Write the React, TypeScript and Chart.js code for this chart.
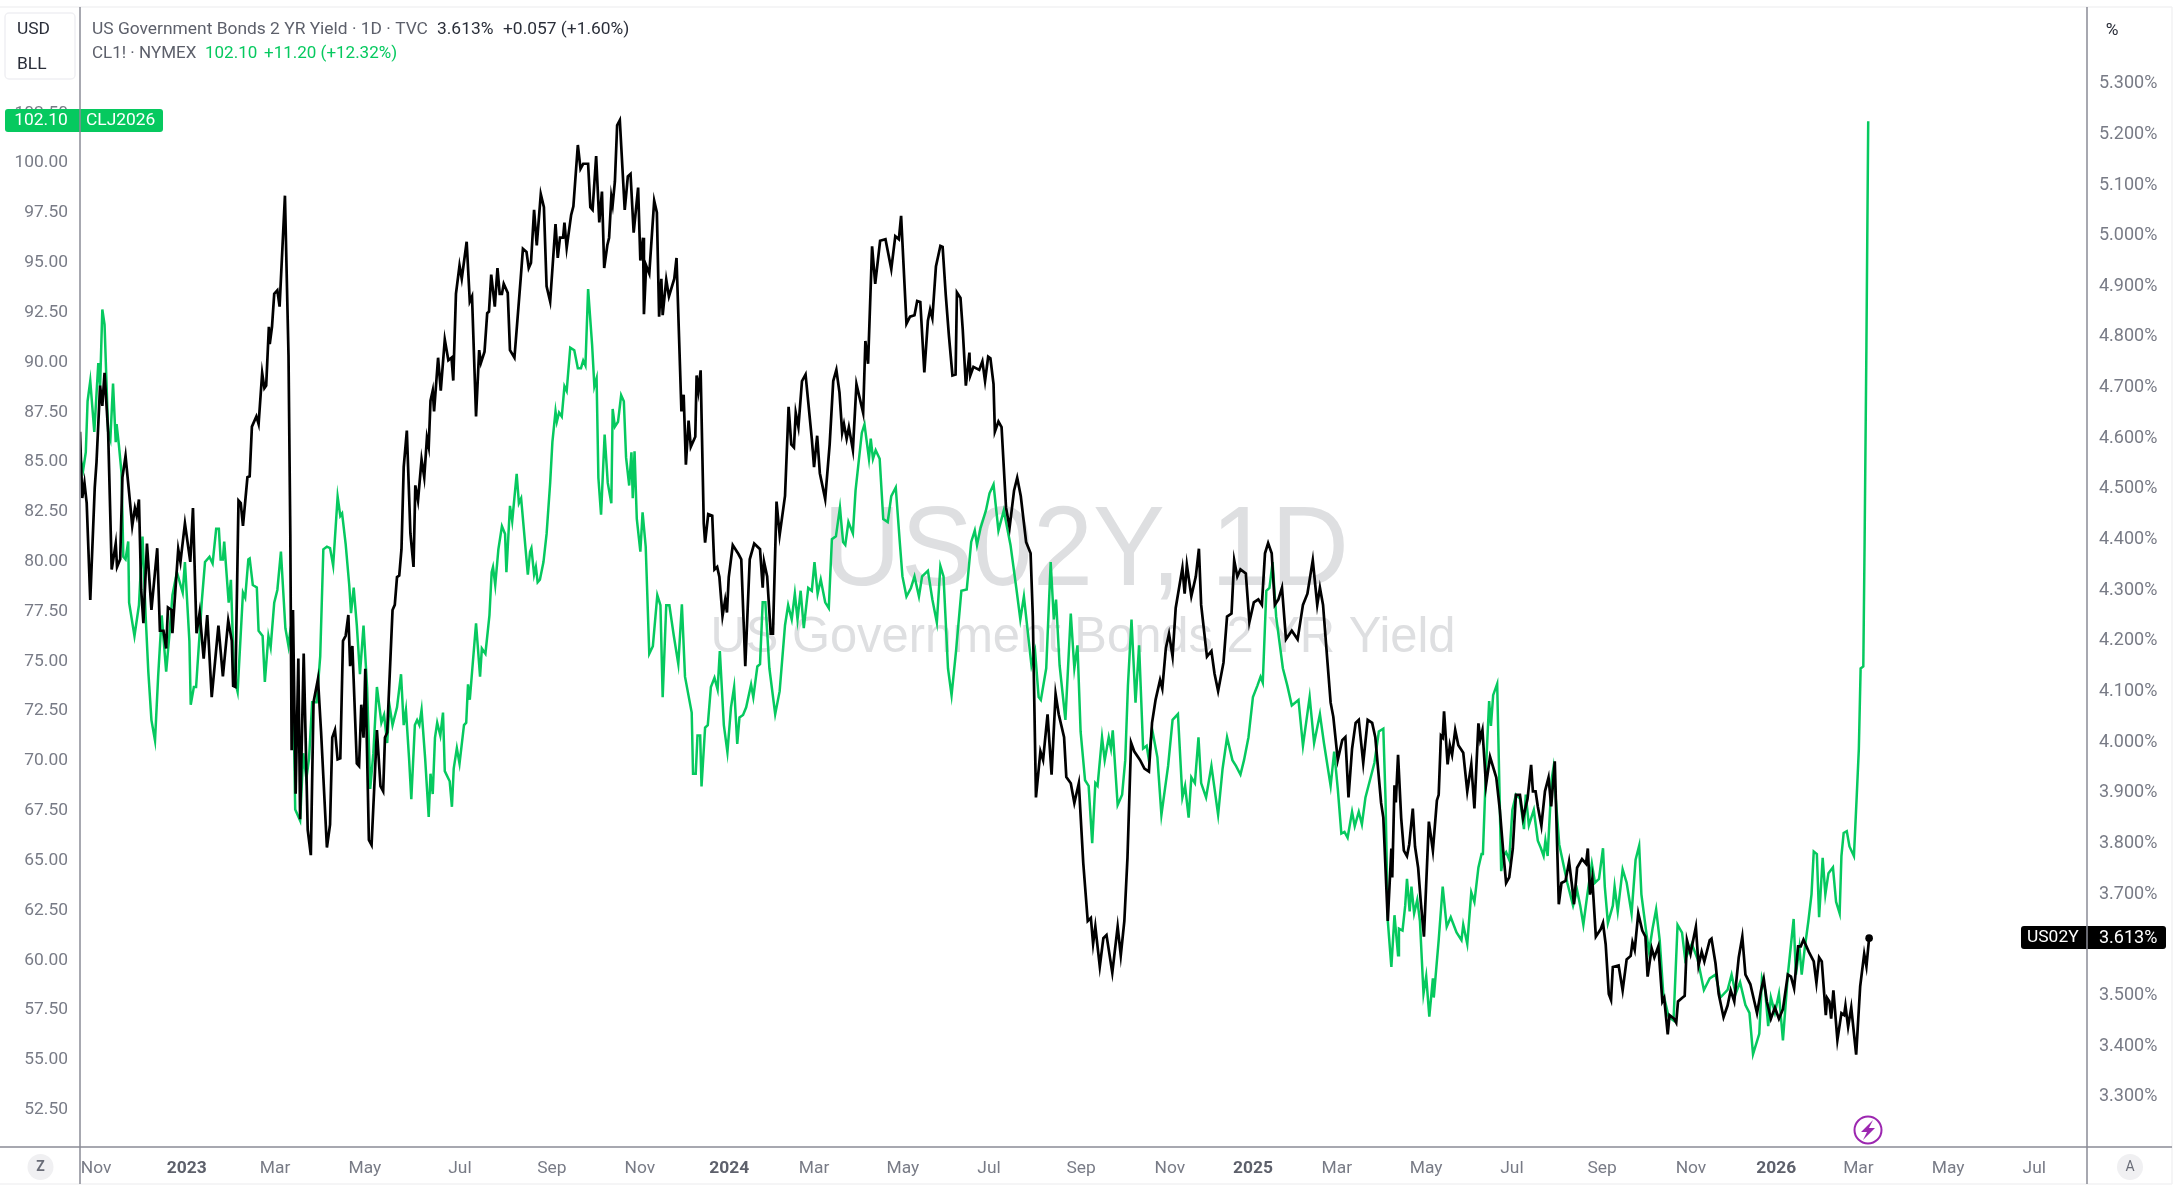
import React, { useEffect, useRef } from "react";
import { Chart, registerables } from "chart.js";

Chart.register(...registerables);

// Horizontal position of each reading on the chart's continuous time axis.
const yieldTime = [45,50,55,60,68,78,82,90,95,100,108,116,125,128,135,140,147,155,162,168,172,177,182,187,195,205,218,224,232,238,242,250,252,265,270,280,292,298,306,313,322,330,340,355,365,377,385,388,393,400,405,410,420,425,430,440,445,453,458,462,468,470,475,480,487,492,504,512,516,519,522,528,534,538,546,555,562,568,578,585,598,605,610,616,622,628,634,640,646,650,655,665,670,675,680,684,692,698,710,718,724,728,733,740,745,750,755,760,765,770,777,785,792,796,802,810,816,822,826,830,835,838,847,853,862,870,877,881,887,895,900,911,918,923,932,939,943,951,957,961,966,974,980,985,990,994,1003,1008,1018,1032,1037,1045,1050,1055,1062,1068,1077,1084,1090,1098,1110,1115,1120,1127,1130,1135,1145,1150,1160,1166,1172,1183,1188,1193,1201,1208,1214,1219,1226,1230,1235,1238,1243,1248,1254,1265,1272,1278,1285,1295,1300,1306,1308,1313,1320,1331,1337,1342,1347,1350,1358,1364,1376,1381,1392,1397,1402,1408,1413,1423,1426,1430,1435,1442,1445,1452,1461,1466,1472,1477,1484,1490,1494,1498,1507,1520,1526,1535,1545,1555,1568,
1574,1577,1584,1592,1597,1605,1612,1624,1632,1638,1644,1648,1654,1662,1670,1684,1689,1696,1702,1714,1724,1732,1739,1746,1752,1756,1762,1767,1776,1784,1799,1804,1810,1819,1826,1837,1849,1862,1871,1879,1884,1896,1904,1914,1920,1927,1936,1944,1949,1954,1962,1972,1977,1984,1991,1999,2006,2009,2017,2022,2029,2037,2039,2046,2059,2066,2072,2079,2084,2091,2094,2102,2109,2119,2127,2137,2144,2152,2164,2174,2179,2186,2196,2202,2212,2221,2230,2237,2249,2254,2264,2272,2282,2292,2302,2309,2314,2319,2329,2337,2344,2357,2369,2376,2384,2391,2399,2406,2419,2429,2439,2446,2454,2464,2469,2477,2484,2492,2499,2514,2519,2524,2534,2544,2551,2556,2569,2579,2586,2594,2606,2614,2624,2630,2637,2644,2656,2664,2674,2684,2692,2699,2706,2714,2721,2729,2737,2746,2759,2772,2784,2794,2806,2816,2822,2829,2839,2846,2852,2862,2872,2879,2886,2894,2902,2909,2919,2929,2939,2946,2959,2964,2974,
2982,2984,2989,2992,2997,3004,3010,3017,3022,3030,3035,3042,3048,3055,3066,3075,3084,3088,3093,3097,3100,3108,3113,3118,3125,3132,3143,3152,3161,3168,3177,3181,3186,3194,3203,3217,3225,3232,3239,3246,3254,3261,3270,3277,3287,3295,3299,3305,3310,3318,3326,3334,3340,3348,3357,3363,3372,3380,3387,3391,3398,3409,3418,3422,3427,3432,3440,3451,3456,3462,3469,3474,3478,3491,3500,3509,3518,3522,3527,3535,3544,3551,3556,3565,3571,3580,3589,3593,3601,3605,3615,3620,3624,3633,3639,3644,3652,3657,3664,3670,3677,3683,3695,3699,3708,3715,3726,3735,3742,3750,3760,3768,3775,3786,3795,3801,3810,3816,3823,3832,3841,3850,3859,3870,3877,3884,3893,3899,3905,3917,3928,3934,3940,3946,3955,3958,3963,3967,3972,3981,3990,3996,3999,4005,4012,4023,4032,4041,4046,4052];

const yieldValues = [4.613,4.482,4.512,4.472,4.281,4.502,4.553,4.704,4.664,4.729,4.613,4.341,4.392,4.346,4.361,4.523,4.565,4.492,4.427,4.462,4.447,4.479,4.301,4.235,4.392,4.261,4.383,4.220,4.220,4.185,4.266,4.261,4.215,4.381,4.356,4.432,4.356,4.462,4.215,4.256,4.165,4.251,4.089,4.230,4.130,4.240,4.200,4.111,4.109,4.477,4.472,4.427,4.523,4.525,4.623,4.643,4.628,4.729,4.699,4.704,4.820,4.786,4.820,4.885,4.892,4.860,5.079,4.764,4.412,3.984,4.261,3.898,4.165,3.848,4.175,3.827,3.777,4.079,4.125,4.019,3.792,3.837,4.009,4.024,3.966,3.968,4.200,4.210,4.251,4.150,4.190,3.958,3.953,4.074,4.009,4.145,3.807,3.797,4.024,3.913,3.903,4.009,4.019,4.160,4.261,4.271,4.326,4.329,4.381,4.543,4.615,4.412,4.346,4.507,4.477,4.558,4.523,4.601,4.583,4.674,4.694,4.653,4.759,4.694,4.795,4.754,4.759,4.714,4.885,4.941,4.915,4.988,4.870,4.880,4.643,4.774,4.749,4.771,4.847,4.850,4.923,4.860,4.936,4.885,4.885,4.905,4.887,4.774,4.759,4.915,4.974,4.968,4.936,4.946,5.051,4.981,5.082,5.056,4.900,4.870,5.023,4.956,4.996,4.996,5.026,4.976,5.041,5.058,5.179,5.132,5.142,5.142,5.056,5.051,5.157,5.026,5.087,4.936,4.981,4.996,5.077,5.061,5.107,5.218,5.228,5.051,5.117,5.122,5.006,5.095,4.951,4.996,4.845,4.941,4.925,5.069,5.046,4.840,4.915,4.843,4.913,4.880,4.915,4.956,4.653,4.686,4.548,4.635,4.583,4.603,4.724,4.694,4.734,4.432,4.394,4.450,4.447,4.341,4.346,4.326,4.249,4.281,4.256,4.326,4.389,4.371,4.361,4.150,4.361,4.392,4.381,
4.305,4.356,4.327,4.214,4.214,4.475,4.409,4.486,4.662,4.588,4.582,4.650,4.622,4.713,4.726,4.599,4.543,4.605,4.531,4.480,4.588,4.713,4.735,4.690,4.611,4.628,4.599,4.622,4.577,4.707,4.650,4.792,4.747,4.979,4.905,4.990,4.993,4.934,4.999,4.993,5.039,4.826,4.840,4.843,4.871,4.869,4.730,4.832,4.854,4.837,4.939,4.980,4.978,4.883,4.803,4.724,4.726,4.888,4.877,4.815,4.704,4.769,4.724,4.741,4.735,4.752,4.713,4.761,4.758,4.707,4.613,4.633,4.622,4.463,4.424,4.497,4.522,4.486,4.395,4.373,4.248,3.891,3.982,3.965,4.055,3.936,4.095,4.055,4.010,3.931,3.919,3.880,3.919,3.761,3.647,3.653,3.602,3.636,3.557,3.613,3.619,3.545,3.636,3.579,3.647,3.772,3.999,3.982,3.965,3.948,3.942,4.038,4.084,4.123,4.106,4.186,4.214,4.169,4.265,4.344,4.293,4.350,4.288,4.327,4.382,4.271,4.169,4.180,4.135,4.101,4.157,4.248,4.254,4.359,4.327,4.341,4.333,4.237,4.276,4.282,4.271,4.373,4.393,4.373,4.271,4.282,4.305,4.203,4.220,4.203,4.271,4.293,4.359,4.271,4.305,4.271,4.157,4.078,4.050,3.965,4.004,4.010,3.891,3.987,4.038,4.044,3.959,4.044,4.038,4.010,3.880,3.851,3.647,
3.790,3.733,3.915,3.881,3.975,3.850,3.786,3.775,3.798,3.869,3.794,3.752,3.684,3.616,3.843,3.786,3.885,3.896,4.013,4.009,4.061,3.956,3.994,3.975,4.024,3.994,3.979,3.903,3.956,3.869,4.037,4.006,4.024,3.915,3.971,3.930,3.866,3.790,3.722,3.733,3.790,3.896,3.896,3.850,3.888,3.955,3.903,3.903,3.873,3.835,3.903,3.930,3.873,3.962,3.680,3.722,3.726,3.764,3.714,3.680,3.752,3.769,3.760,3.790,3.699,3.730,3.616,3.631,3.643,3.601,3.503,3.491,3.556,3.559,3.510,3.571,3.578,3.605,3.590,3.662,3.628,3.616,3.537,3.593,3.575,3.597,3.488,3.495,3.423,3.461,3.454,3.446,3.488,3.495,3.499,3.609,3.582,3.605,3.635,3.559,3.586,3.567,3.609,3.612,3.563,3.503,3.457,3.480,3.510,3.488,3.575,3.616,3.541,3.522,3.488,3.465,3.510,3.533,3.488,3.454,3.476,3.454,3.473,3.541,3.537,3.514,3.597,3.597,3.610,3.586,3.567,3.525,3.575,3.567,3.461,3.495,3.488,3.454,3.510,3.412,3.465,3.461,3.480,3.438,3.476,3.383,3.518,3.582,3.557,3.613];

const oilTime = [45,52,58,62,68,77,86,90,95,100,108,113,119,125,127,132,138,142,147,153,155,167,177,185,192,198,205,213,220,228,238,245,252,262,275,280,290,293,300,305,308,318,325,335,342,350,356,360,365,368,378,383,390,398,410,415,422,425,432,441,445,454,459,467,472,480,487,495,505,512,516,520,527,538,545,552,558,565,575,583,590,598,605,612,622,628,632,640,648,652,658,665,672,680,688,695,702,710,720,726,733,738,745,755,764,770,775,782,787,795,800,805,810,818,826,830,835,840,845,852,858,862,873,878,882,889,895,905,910,914,918,925,932,941,945,953,962,967,970,975,982,990,997,1000,1008,1013,1023,1028,1033,1048,1053,1056,1062,1066,1070,1075,1083,1090,1098,1103,1110,1113,1118,1124,1130,1135,1143,1152,1160,1167,1172,1177,1183,1192,1197,1202,1206,1212,1220,1227,1235,1238,1243,1250,1257,1263,1268,1275,1280,1283,1287,1292,1300,1305,1312,1320,1328,1338,1345,1350,1358,1365,1375,1385,1393,1400,1415,1418,1424,1428,1434,1437,1445,1451,1458,1466,1473,1478,1487,1495,1503,1510,1517,1522,1530,1537,1548,1553,1562,1568,
1574,1580,1589,1602,1612,1624,1631,1639,1646,1652,1659,1666,1676,1684,1690,1697,1704,1714,1722,1729,1738,1747,1754,1759,1766,1776,1782,1796,1802,1812,1816,1821,1827,1836,1844,1854,1862,1872,1881,1887,1896,1906,1914,1924,1931,1944,1954,1964,1972,1979,1989,1997,2007,2019,2031,2041,2049,2054,2062,2074,2082,2091,2102,2114,2129,2142,2151,2159,2176,2184,2192,2197,2209,2219,2226,2231,2239,2252,2264,2272,2279,2286,2296,2304,2312,2319,2324,2334,2340,2349,2354,2358,2369,2379,2386,2392,2400,2409,2417,2426,2434,2439,2446,2458,2467,2482,2492,2504,2514,2520,2528,2534,2542,2550,2556,2567,2579,2594,2604,2614,2626,2634,2644,2652,2662,2672,2682,2689,2694,2702,2709,2716,2724,2739,2749,2759,2774,2784,2799,2809,2822,2831,2846,2854,2862,2870,2877,2884,2894,2900,2909,2916,2924,2934,2944,2954,2964,2969,2974,2982,2989,2997,
2999,3007,3013,3017,3023,3027,3033,3040,3046,3054,3060,3067,3075,3077,3088,3097,3106,3115,3128,3139,3143,3152,3161,3168,3177,3184,3187,3194,3201,3205,3210,3219,3224,3228,3233,3239,3246,3253,3261,3270,3279,3283,3290,3301,3310,3317,3323,3327,3332,3341,3345,3358,3376,3389,3398,3405,3412,3421,3431,3438,3447,3456,3460,3467,3478,3482,3489,3500,3509,3520,3529,3537,3542,3553,3559,3567,3575,3583,3591,3603,3614,3623,3633,3640,3655,3668,3682,3695,3708,3719,3735,3744,3753,3763,3775,3784,3792,3806,3812,3819,3826,3832,3841,3850,3859,3870,3883,3888,3896,3901,3908,3916,3923,3928,3935,3940,3948,3954,3961,3971,3978,3986,3990,3995,4002,4008,4018,4024,4029,4033,4039,4042,4046,4050];

const oilValues = [85.23,84.59,85.49,88.05,89.07,86.51,89.97,88.8,92.65,91.89,86.51,86.13,88.94,86.0,86.9,85.87,84.46,80.24,80.11,81.01,77.94,76.27,77.81,81.26,77.3,74.48,72.05,71.03,74.23,77.3,74.48,76.27,78.32,79.47,78.45,79.98,76.02,72.82,73.71,73.71,74.74,78.07,79.98,80.24,79.91,81.65,81.65,80.11,80.11,81.01,77.94,79.09,74.23,73.46,78.45,78.19,80.11,80.16,78.83,78.7,76.53,76.27,73.97,76.27,75.71,77.94,78.58,80.5,76.66,75.76,76.53,77.04,67.57,67.01,70.39,69.11,70.13,72.95,72.95,75.25,80.62,80.75,80.68,79.8,83.26,82.29,82.42,80.88,78.83,77.42,78.7,76.79,74.35,76.79,73.71,68.6,70.39,73.71,71.92,72.31,70.9,72.82,71.8,72.69,74.35,71.8,72.56,70.13,68.08,71.8,72.05,71.8,72.56,70.13,67.19,69.36,68.34,71.16,71.92,71.28,72.43,69.49,68.98,67.7,69.62,70.64,69.87,71.8,71.92,73.84,73.07,74.99,76.91,74.23,75.64,75.38,77.3,79.47,79.73,78.83,80.62,81.78,81.39,79.47,82.8,82.03,84.41,82.93,83.18,79.35,80.5,80.68,79.35,79.73,78.96,79.09,79.98,81.39,83.95,86.0,87.54,87.02,87.48,87.28,88.8,88.56,90.74,90.61,89.71,89.71,90.09,89.84,93.68,90.86,88.8,89.2,84.21,82.36,86.38,83.95,82.93,87.66,86.77,87.02,88.35,88.05,85.23,83.82,85.49,83.18,85.54,82.16,80.5,82.47,80.75,75.38,75.76,78.32,77.81,73.2,77.81,77.81,76.27,74.86,77.86,74.23,72.43,69.36,69.36,71.28,71.28,68.72,71.67,71.8,73.71,74.17,73.59,75.51,71.8,70.44,72.69,73.71,70.85,72.18,72.31,72.69,73.84,73.2,74.74,74.86,
77.96,77.96,74.65,72.35,73.5,76.81,77.82,77.1,78.39,77.1,78.54,76.67,78.68,78.54,79.98,78.39,79.11,77.96,77.67,81.13,81.27,82.71,80.99,80.84,81.99,81.42,83.58,86.46,86.89,85.16,86.17,85.16,85.59,85.16,82.14,81.99,83.29,83.72,80.99,79.26,78.25,78.68,79.26,78.25,79.26,79.54,78.1,76.95,79.78,79.26,74.65,73.3,75.51,78.54,78.6,80.99,81.56,80.84,81.7,82.57,83.43,83.87,81.56,82.57,80.84,78.68,77.1,78.25,74.79,75.51,73.21,73.06,74.65,79.98,77.1,78.1,74.79,72.06,77.39,74.65,75.8,71.48,69.03,68.75,65.87,68.89,68.75,71.19,70.04,71.19,70.62,71.54,67.79,68.31,70.04,73.78,77.1,72.92,75.8,70.62,70.76,70.04,71.62,70.18,67.3,69.75,72.06,72.35,68.17,68.75,67.16,69.18,68.89,71.19,68.89,68.17,69.75,67.3,69.61,71.19,70.04,69.75,69.32,70.04,71.19,73.21,73.78,74.22,73.93,78.54,78.68,79.98,77.24,74.65,73.78,72.78,73.06,70.76,73.21,70.9,72.35,70.9,68.75,70.47,68.6,66.36,66.44,66.15,67.45,66.73,67.45,66.82,68.17,69.03,69.9,71.48,71.62,68.03,61.98,59.67,62.26,60.25,
61.59,61.49,62.74,64.08,62.45,63.7,62.35,63.03,61.97,58.32,59.19,57.17,59.09,58.13,61.01,63.7,61.68,62.16,61.39,61.01,61.78,60.82,63.41,62.93,64.66,65.33,65.33,69.65,73.01,71.76,73.3,73.87,68.69,64.47,65.23,65.43,65.04,67.54,68.31,68.11,66.58,68.31,66.77,67.54,66.0,65.62,65.23,66.0,65.23,69.07,69.65,65.81,63.89,62.74,63.51,62.74,61.78,63.31,64.85,63.89,64.08,65.62,63.7,61.87,62.74,63.7,62.45,64.56,63.89,62.35,65.04,65.75,63.31,61.39,60.43,61.59,62.55,61.01,58.32,57.17,56.98,61.78,61.39,60.05,60.82,60.05,58.51,59.09,59.28,58.13,58.51,59.28,58.32,58.9,57.75,57.36,55.29,56.31,59.09,58.51,56.69,58.13,57.36,58.32,55.98,59.28,62.07,59.28,60.63,59.28,60.63,61.97,63.31,65.46,65.33,62.16,65.14,63.31,64.37,64.66,62.93,62.35,65.23,66.39,66.48,65.71,65.23,68.11,70.6,74.64,74.74,81.17,90.9,102.1];

const timeTickValues = [81,284,482,683,896,1102,1299,1499,1689,1888,2081,2287,2486,2672,2860,3060,3252,3454,3653,3844,4028,4229,4422];
const timeTickLabels = ["Nov","2023","Mar","May","Jul","Sep","Nov","2024","Mar","May","Jul","Sep","Nov","2025","Mar","May","Jul","Sep","Nov","2026","Mar","May","Jul"];
const oilTicks = [52.5,55,57.5,60,62.5,65,67.5,70,72.5,75,77.5,80,82.5,85,87.5,90,92.5,95,97.5,100,102.5];
const yieldTicks = [3.3,3.4,3.5,3.6,3.7,3.8,3.9,4.0,4.1,4.2,4.3,4.4,4.5,4.6,4.7,4.8,4.9,5.0,5.1,5.2,5.3];

const GREEN = "#06c95f";
const FONT = "Roboto, sans-serif";
const AXIS_LINE = "#8b8c96";
const TICK_TEXT = "#787b86";
const LABEL_FONT = `17.4px ${FONT}`;
const LINE_TWO_FONT = `17px ${FONT}`;

const isYearTick = (ctx: any) => /^\d/.test(timeTickLabels[timeTickValues.indexOf(ctx.tick?.value)] ?? "");

function text(c: CanvasRenderingContext2D, s: string, x: number, y: number, color: string, font = LABEL_FONT, align: CanvasTextAlign = "left") {
  c.font = font;
  c.fillStyle = color;
  c.textAlign = align;
  c.textBaseline = "middle";
  c.fillText(s, x, y);
}

const chrome = {
  id: "chrome",
  beforeDatasetsDraw(chart: Chart) {
    const c = chart.ctx;
    c.save();
    c.fillStyle = "#dedfe1";
    c.textAlign = "center";
    c.textBaseline = "alphabetic";
    c.font = "114px 'Liberation Sans', sans-serif";
    c.fillText("US02Y, 1D", 1086, 585, 526);
    c.font = "50px 'Liberation Sans', sans-serif";
    c.fillText("US Government Bonds 2 YR Yield", 1083, 652, 745);
    c.restore();
  },
  afterDraw(chart: Chart) {
    const c = chart.ctx;
    c.save();
    // frame
    c.strokeStyle = "#f2f2f4";
    c.lineWidth = 1.5;
    c.beginPath();
    c.moveTo(0, 7); c.lineTo(2172, 7);
    c.moveTo(2172, 7); c.lineTo(2172, 1184);
    c.moveTo(0, 1184); c.lineTo(2172, 1184);
    c.stroke();
    // USD/BLL box
    c.fillStyle = "#fff";
    c.strokeStyle = "#f0f0f3";
    c.beginPath();
    c.roundRect(5, 13, 70, 66, 4);
    c.fill(); c.stroke();
    text(c, "USD", 17, 30, "#2a2e39");
    text(c, "BLL", 17, 64.5, "#2a2e39");
    // legend
    text(c, "US Government Bonds 2 YR Yield · 1D · TVC", 92, 30, "#5d606b");
    text(c, "3.613%", 437, 30, "#2a2e39");
    text(c, "+0.057 (+1.60%)", 503, 30, "#2a2e39");
    text(c, "CL1! · NYMEX", 92, 53.5, "#5d606b", LINE_TWO_FONT);
    text(c, "102.10", 205, 53.5, GREEN, LINE_TWO_FONT);
    text(c, "+11.20 (+12.32%)", 264, 53.5, GREEN, LINE_TWO_FONT);
    text(c, "%", 2112, 30.5, "#2a2e39", LABEL_FONT, "center");
    // last-price tags
    c.fillStyle = GREEN;
    c.beginPath();
    c.roundRect(5, 109, 158, 23, 3);
    c.fill();
    text(c, "102.10", 41, 121, "#fff", LABEL_FONT, "center");
    text(c, "CLJ2026", 86, 121, "#fff");
    c.fillStyle = "#000";
    c.beginPath();
    c.roundRect(2021, 926, 145, 23, 3);
    c.fill();
    text(c, "US02Y", 2027, 938, "#fff");
    text(c, "3.613%", 2099, 938, "#fff", `18px ${FONT}`);
    // axis rules
    c.strokeStyle = AXIS_LINE;
    c.lineWidth = 1.5;
    c.beginPath();
    c.moveTo(80, 7); c.lineTo(80, 1184);
    c.moveTo(2087, 7); c.lineTo(2087, 1184);
    c.moveTo(0, 1147); c.lineTo(2172, 1147);
    c.stroke();
    // corner buttons
    c.fillStyle = "#f0f0f2";
    c.beginPath();
    c.arc(40.5, 1167, 13, 0, Math.PI * 2);
    c.fill();
    c.beginPath();
    c.arc(2130, 1167, 13, 0, Math.PI * 2);
    c.fill();
    text(c, "Z", 40.5, 1167, "#6a6d78", `bold 14px ${FONT}`, "center");
    text(c, "A", 2130, 1167, "#6a6d78", `14px ${FONT}`, "center");
    // lightning marker
    c.strokeStyle = "#9c27b0";
    c.lineWidth = 2;
    c.fillStyle = "#fff";
    c.beginPath();
    c.arc(1868, 1130, 13.5, 0, Math.PI * 2);
    c.fill(); c.stroke();
    c.fillStyle = "#9c27b0";
    c.beginPath();
    c.moveTo(1873, 1120); c.lineTo(1861, 1132); c.lineTo(1867, 1132);
    c.lineTo(1863, 1140); c.lineTo(1875, 1128); c.lineTo(1869, 1128);
    c.closePath();
    c.fill();
    c.restore();
  },
};

const noEdgePadding = (axis: any) => {
  axis.paddingTop = 0;
  axis.paddingBottom = 0;
  axis.paddingLeft = 0;
  axis.paddingRight = 0;
};

export default function App() {
  const ref = useRef<HTMLCanvasElement>(null);
  useEffect(() => {
    const last = yieldTime.length - 1;
    const chart = new Chart(ref.current!, {
      type: "line",
      data: {
        datasets: [
          {
            label: "CL1!",
            yAxisID: "yOil",
            data: oilTime.map((x, i) => ({ x, y: oilValues[i] })),
            borderColor: GREEN,
            borderWidth: 2.5,
            pointRadius: 0,
            tension: 0,
            order: 2,
          },
          {
            label: "US02Y",
            yAxisID: "yYield",
            data: yieldTime.map((x, i) => ({ x, y: yieldValues[i] })),
            borderColor: "#000",
            backgroundColor: "#000",
            borderWidth: 2.7,
            pointRadius: (ctx: any) => (ctx.dataIndex === last ? 3.8 : 0),
            pointBorderWidth: 0,
            tension: 0,
            order: 1,
          },
        ],
      },
      plugins: [chrome],
      options: {
        animation: false,
        responsive: false,
        devicePixelRatio: 1,
        layout: { padding: { top: 8, right: 8, bottom: 16, left: 0 } },
        plugins: { legend: { display: false }, tooltip: { enabled: false } },
        scales: {
          x: {
            type: "linear",
            min: 45,
            max: 4540,
            grid: { display: false, drawTicks: false },
            border: { display: false },
            afterBuildTicks: (axis: any) => { axis.ticks = timeTickValues.map((value) => ({ value })); },
            afterFit: (axis: any) => { axis.height = 37; noEdgePadding(axis); },
            ticks: {
              autoSkip: false,
              maxRotation: 0,
              padding: 11,
              color: (ctx: any) => (isYearTick(ctx) ? "#5d606b" : TICK_TEXT),
              font: (ctx: any) => (isYearTick(ctx)
                ? { family: FONT, size: 17.4, weight: "bold" }
                : { family: FONT, size: 17.4 }),
              callback: (v: any) => timeTickLabels[timeTickValues.indexOf(v)] ?? "",
            },
          },
          yOil: {
            type: "linear",
            position: "left",
            min: 50.63,
            max: 107.78,
            grid: { display: false, drawTicks: false },
            border: { display: false },
            afterBuildTicks: (axis: any) => { axis.ticks = oilTicks.map((value) => ({ value })); },
            afterFit: (axis: any) => { axis.width = 80; noEdgePadding(axis); },
            ticks: {
              autoSkip: false,
              padding: 12,
              color: TICK_TEXT,
              font: { family: FONT, size: 17.4 },
              callback: (v: any) => Number(v).toFixed(2),
            },
          },
          yYield: {
            type: "linear",
            position: "right",
            min: 3.2007,
            max: 5.4495,
            grid: { display: false, drawTicks: false },
            border: { display: false },
            afterBuildTicks: (axis: any) => { axis.ticks = yieldTicks.map((value) => ({ value })); },
            afterFit: (axis: any) => { axis.width = 85; noEdgePadding(axis); },
            ticks: {
              autoSkip: false,
              padding: 12,
              color: TICK_TEXT,
              font: { family: FONT, size: 18 },
              callback: (v: any) => `${Number(v).toFixed(3)}%`,
            },
          },
        },
      } as any,
    });
    return () => chart.destroy();
  }, []);
  return (
    <div style={{ position: "fixed", inset: 0, background: "#fff" }}>
      <canvas ref={ref} width={2180} height={1200} style={{ display: "block" }} />
    </div>
  );
}
